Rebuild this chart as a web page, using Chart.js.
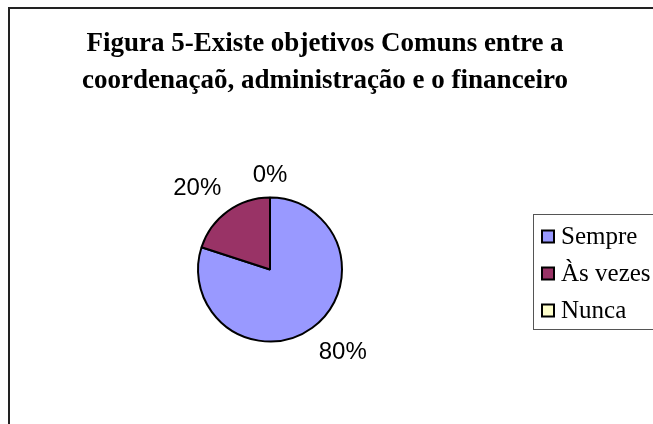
<!DOCTYPE html>
<html>
<head>
<meta charset="utf-8">
<script src="https://cdn.jsdelivr.net/npm/chart.js@4/dist/chart.umd.min.js"></script>
<style>
html,body{margin:0;padding:0;background:#fff;}
canvas{display:block;}
</style>
</head>
<body>
<canvas id="c" width="653" height="424"></canvas>
<script>
const titleLines = ["Figura 5-Existe objetivos Comuns entre a", "coordenaçaõ, administração e o financeiro"];
const categories = ["Sempre", "Às vezes", "Nunca"];
const values = [80, 20, 0];
const percentLabels = ["80%", "20%", "0%"];
const colors = ["#9999FF", "#993366", "#FFFFCC"];

const framePlugin = {
  id: 'frame',
  beforeDraw(chart) {
    const ctx = chart.ctx;
    ctx.save();
    ctx.fillStyle = '#fff';
    ctx.fillRect(0, 0, chart.width, chart.height);
    ctx.strokeStyle = '#222';
    ctx.lineWidth = 2;
    ctx.strokeRect(9, 8, chart.width + 40, chart.height + 40);
    // title
    ctx.fillStyle = '#000';
    ctx.font = 'bold 27px "Liberation Serif", "Times New Roman", serif';
    ctx.textAlign = 'center';
    ctx.textBaseline = 'alphabetic';
    ctx.fillText(titleLines[0], 325, 51);
    ctx.fillText(titleLines[1], 325, 88);
    ctx.restore();
  },
  afterDatasetsDraw(chart) {
    const ctx = chart.ctx;
    const meta = chart.getDatasetMeta(0);
    ctx.save();
    ctx.font = '24px "Liberation Sans", Arial, sans-serif';
    ctx.fillStyle = '#000';
    ctx.textAlign = 'center';
    ctx.textBaseline = 'middle';
    meta.data.forEach((arc, i) => {
      const p = arc.getProps(['x', 'y', 'startAngle', 'endAngle', 'outerRadius'], true);
      const mid = (p.startAngle + p.endAngle) / 2;
      let dx = Math.cos(mid), dy = Math.sin(mid);
      if (Math.abs(dx) < 1e-6) dx = 0;
      if (Math.abs(dy) < 1e-6) dy = 0;
      const w = ctx.measureText(percentLabels[i]).width;
      const a = w / 2 + 7, b = 24.5;
      const D = p.outerRadius - 1;
      const x = p.x + dx * D + Math.sign(dx) * a;
      const y = p.y + dy * D + Math.sign(dy) * b;
      ctx.fillText(percentLabels[i], x, y + 1);
    });
    // legend
    ctx.strokeStyle = '#555';
    ctx.lineWidth = 1;
    ctx.strokeRect(533.5, 214.5, 140, 115);
    ctx.font = '25px "Liberation Serif", "Times New Roman", serif';
    ctx.textAlign = 'left';
    ctx.textBaseline = 'middle';
    categories.forEach((c, i) => {
      const y = 236.5 + i * 37;
      ctx.fillStyle = colors[i];
      ctx.fillRect(542, y - 6, 12, 12);
      ctx.strokeStyle = '#000';
      ctx.lineWidth = 2;
      ctx.strokeRect(542, y - 6, 12, 12);
      ctx.fillStyle = '#000';
      ctx.fillText(c, 561, y + 1);
    });
    ctx.restore();
  }
};

new Chart(document.getElementById('c'), {
  type: 'pie',
  data: {
    labels: categories,
    datasets: [{
      data: values,
      backgroundColor: colors,
      borderColor: '#000',
      borderWidth: 2
    }]
  },
  options: {
    responsive: false,
    animation: false,
    layout: { padding: { left: 197, right: 310, top: 196, bottom: 81 } },
    plugins: {
      legend: { display: false },
      title: { display: false },
      tooltip: { enabled: false }
    }
  },
  plugins: [framePlugin]
});
</script>
</body>
</html>
